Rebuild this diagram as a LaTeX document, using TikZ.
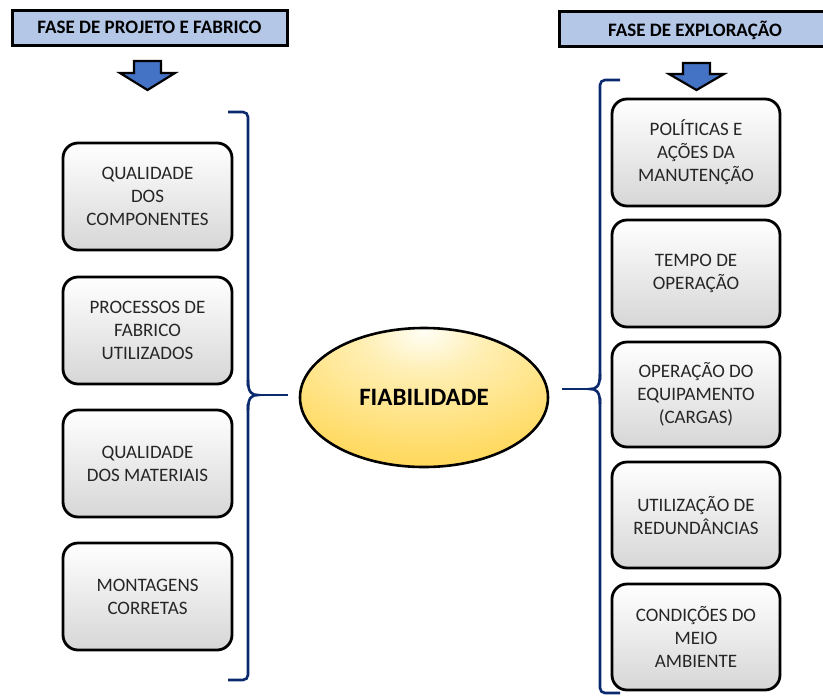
\documentclass[tikz,border=0pt]{standalone}
\usepackage{fontspec}
\setmainfont{Carlito}
\usetikzlibrary{shapes.geometric}
\definecolor{hdrblue}{HTML}{B4C7E7}
\definecolor{arrowblue}{HTML}{4472C4}
\definecolor{bracenavy}{HTML}{0B2A6E}
\definecolor{boxtext}{HTML}{262626}
\definecolor{goldtop}{HTML}{FFFEF6}
\definecolor{goldlight}{HTML}{FFEFB4}
\definecolor{goldmid}{HTML}{FFDC6A}
\definecolor{goldrim}{HTML}{FFC825}
% light spot near the top, turning gold towards the rim
\pgfdeclareradialshading{fiashade}{\pgfpoint{0bp}{24bp}}{%
  color(0bp)=(goldtop); color(12bp)=(goldlight); color(34bp)=(goldmid);
  color(60bp)=(goldrim); color(100bp)=(goldrim)}
\tikzset{
  header/.style={draw=black, line width=3pt, fill=hdrblue, minimum height=35pt,
    font=\fontsize{19}{22}\selectfont\bfseries, text=black, inner sep=0pt},
  factor/.style={draw=black, line width=2.8pt, rounded corners=15pt,
    top color=white, bottom color=black!16, minimum width=169pt,
    minimum height=107pt, align=center, text=boxtext, inner sep=2pt,
    font=\fontsize{19}{23}\selectfont},
  core/.style={ellipse, draw=black, line width=2.6pt, inner sep=0pt,
    minimum width=248pt, minimum height=139pt, shading=fiashade,
    font=\fontsize{25}{28}\selectfont\bfseries},
  downarrow/.style={draw=black, line width=2.2pt, fill=arrowblue, line join=miter},
  brace/.style={draw=bracenavy, line width=2.6pt, rounded corners=5pt},
  link/.style={draw=bracenavy, line width=2.6pt}
}
\begin{document}
\begin{tikzpicture}[x=1pt, y=-1pt]
\useasboundingbox (0,0) rectangle (823,697);

% phase headers
\node[header, minimum width=275pt] (hleft) at (149.5,27.5) {\raisebox{-1.5pt}{FASE DE PROJETO E FABRICO}};
\begin{scope}
\clip (0,0) rectangle (823,697);
\node[header, minimum width=290pt, anchor=west] (hright) at (558,29) {};
\end{scope}
\node[font=\fontsize{19}{22}\selectfont\bfseries, yshift=-1.5pt] (hrighttext) at (695,29) {FASE DE EXPLORAÇÃO};

% block arrows below the headers
\draw[downarrow] (134,61) -- (161,61) -- (161,73) -- (175,73) -- (147.5,90)
  -- (120,73) -- (134,73) -- cycle;
\draw[downarrow] (683,63) -- (710,63) -- (710,74) -- (724,74) -- (696.5,90)
  -- (669,74) -- (683,74) -- cycle;

% design and manufacturing factors
\node[factor] (l1) at (147.5,196.5) {QUALIDADE\\DOS\\COMPONENTES};
\node[factor] (l2) at (147.5,330.5) {PROCESSOS DE\\FABRICO\\UTILIZADOS};
\node[factor] (l3) at (147.5,463.5) {QUALIDADE\\DOS MATERIAIS};
\node[factor] (l4) at (147.5,596.5) {MONTAGENS\\CORRETAS};

% operation factors
\node[factor, minimum width=168pt] (r1) at (696,152.5) {POLÍTICAS E\\AÇÕES DA\\MANUTENÇÃO};
\node[factor, minimum width=168pt] (r2) at (696,273.5) {TEMPO DE\\OPERAÇÃO};
\node[factor, minimum width=168pt, minimum height=105pt] (r3) at (696,394.5) {OPERAÇÃO DO\\EQUIPAMENTO\\(CARGAS)};
\node[factor, minimum width=168pt, minimum height=106pt] (r4) at (696,515) {UTILIZAÇÃO DE\\REDUNDÂNCIAS};
\node[factor, minimum width=168pt, minimum height=106pt] (r5) at (696,637) {CONDIÇÕES DO\\MEIO\\AMBIENTE};

% central concept
\node[core] (fia) at (424,397.5) {FIABILIDADE};

% left brace
\coordinate (ltip) at (258,395);
\draw[brace] (228,112) -- (248,112) -- (248,386);
\draw[bracenavy, line width=2.6pt] (248,380) .. controls (248,393) and (252,395) .. (ltip)
  .. controls (252,395) and (248,397) .. (248,410);
\draw[brace] (248,404) -- (248,680) -- (228,680);
\draw[link] (ltip) -- (288,395);

% right brace
\coordinate (rtip) at (590,389);
\draw[brace] (620,80) -- (600,80) -- (600,380);
\draw[bracenavy, line width=2.6pt] (600,374) .. controls (600,387) and (596,389) .. (rtip)
  .. controls (596,389) and (600,391) .. (600,404);
\draw[brace] (600,398) -- (600,693) -- (620,693);
\draw[link] (562,389) -- (rtip);
\end{tikzpicture}
\end{document}
